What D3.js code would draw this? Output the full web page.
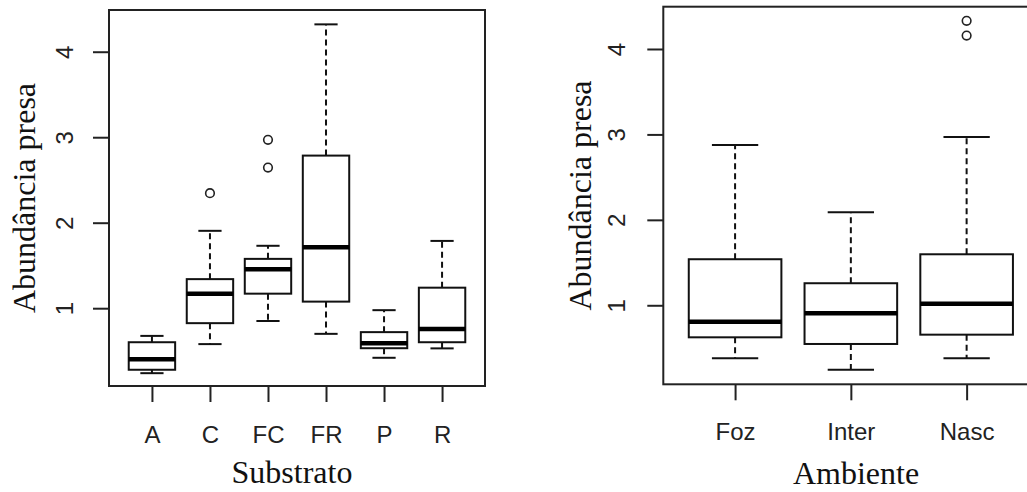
<!DOCTYPE html>
<html>
<head>
<meta charset="utf-8">
<script src="https://cdn.jsdelivr.net/npm/d3@7"></script>
<style>
  html, body { margin: 0; padding: 0; background: #fff; }
  svg { display: block; }
</style>
</head>
<body>
<svg id="chart" width="1027" height="492"></svg>
<script>
// ---------- DATA ----------
const yTicks = [1, 2, 3, 4];

const subCats  = ["A", "C", "FC", "FR", "P", "R"];
const subLow   = [0.24, 0.58, 0.85, 0.70, 0.42, 0.53];
const subQ1    = [0.28, 0.825, 1.17, 1.077, 0.532, 0.602];
const subMed   = [0.404, 1.17, 1.456, 1.713, 0.59, 0.758];
const subQ3    = [0.602, 1.34, 1.577, 2.785, 0.72, 1.24];
const subHigh  = [0.676, 1.905, 1.73, 4.32, 0.977, 1.787];
const subOut   = [[], [2.345], [2.97, 2.645], [], [], []];

const ambCats  = ["Foz", "Inter", "Nasc"];
const ambLow   = [0.379, 0.246, 0.379];
const ambQ1    = [0.625, 0.547, 0.656];
const ambMed   = [0.808, 0.906, 1.019];
const ambQ3    = [1.539, 1.258, 1.597];
const ambHigh  = [2.877, 2.089, 2.97];
const ambOut   = [[], [], [4.33, 4.157]];

const yLabel = "Abundância presa";

// ---------- DRAW ----------
const svg = d3.select("#chart");

function panel(cfg) {
  const { cats, low, q1, med, q3, high, out, left, right, top, bottom,
          xDomain, yDomain, xTitle, xTitleX, xTitleY, xLabY, yLabX, yTitleX } = cfg;
  const g = svg.append("g");
  const x = d3.scaleLinear().domain(xDomain).range([left, right]);
  const y = d3.scaleLinear().domain(yDomain).range([bottom, top]);

  const boxes = cats.map((c, i) => ({ c, i: i + 1, low: low[i], q1: q1[i], med: med[i], q3: q3[i], high: high[i], out: out[i] }));
  const bw = (x(1.4) - x(0.6));   // box width 0.8 units
  const cw = bw / 2;

  const bg = g.selectAll("g.box").data(boxes).enter().append("g").attr("class", "box");
  // whiskers (dashed)
  bg.append("line")
    .attr("x1", d => x(d.i)).attr("x2", d => x(d.i))
    .attr("y1", d => y(d.q3)).attr("y2", d => y(d.high))
    .attr("stroke", "#111").attr("stroke-width", 2).attr("stroke-dasharray", "6,4");
  bg.append("line")
    .attr("x1", d => x(d.i)).attr("x2", d => x(d.i))
    .attr("y1", d => y(d.q1)).attr("y2", d => y(d.low))
    .attr("stroke", "#111").attr("stroke-width", 2).attr("stroke-dasharray", "6,4");
  // caps
  bg.append("line")
    .attr("x1", d => x(d.i) - cw / 2).attr("x2", d => x(d.i) + cw / 2)
    .attr("y1", d => y(d.high)).attr("y2", d => y(d.high))
    .attr("stroke", "#111").attr("stroke-width", 2);
  bg.append("line")
    .attr("x1", d => x(d.i) - cw / 2).attr("x2", d => x(d.i) + cw / 2)
    .attr("y1", d => y(d.low)).attr("y2", d => y(d.low))
    .attr("stroke", "#111").attr("stroke-width", 2);
  // box
  bg.append("rect")
    .attr("x", d => x(d.i) - bw / 2).attr("width", bw)
    .attr("y", d => y(d.q3)).attr("height", d => y(d.q1) - y(d.q3))
    .attr("fill", "#fff").attr("stroke", "#111").attr("stroke-width", 2);
  // median
  bg.append("line")
    .attr("x1", d => x(d.i) - bw / 2).attr("x2", d => x(d.i) + bw / 2)
    .attr("y1", d => y(d.med)).attr("y2", d => y(d.med))
    .attr("stroke", "#000").attr("stroke-width", 4.5);
  // outliers
  bg.selectAll("circle").data(d => d.out.map(v => ({ i: d.i, v }))).enter().append("circle")
    .attr("cx", d => x(d.i)).attr("cy", d => y(d.v)).attr("r", 4.3)
    .attr("fill", "none").attr("stroke", "#222").attr("stroke-width", 1.6);

  // frame
  g.append("rect")
    .attr("x", left).attr("y", top).attr("width", right - left).attr("height", bottom - top)
    .attr("fill", "none").attr("stroke", "#222").attr("stroke-width", 2);

  // y axis
  const ya = g.append("g").attr("transform", `translate(${left},0)`)
    .call(d3.axisLeft(y).tickValues(yTicks).tickSize(16).tickFormat(d3.format("d")));
  ya.select(".domain").remove();
  ya.selectAll(".tick line").attr("stroke", "#222").attr("stroke-width", 2);
  ya.selectAll(".tick text")
    .attr("x", null).attr("dy", null)
    .attr("text-anchor", "middle")
    .attr("transform", `translate(${yLabX - left},0) rotate(-90)`)
    .attr("font-family", "'Liberation Sans', Arial, sans-serif").attr("font-size", 24)
    .attr("fill", "#222");

  // x axis
  const xa = g.append("g").attr("transform", `translate(0,${bottom})`)
    .call(d3.axisBottom(x).tickValues(cats.map((c, i) => i + 1)).tickSize(16)
      .tickFormat((d) => cats[d - 1]));
  xa.select(".domain").remove();
  xa.selectAll(".tick line").attr("stroke", "#222").attr("stroke-width", 2);
  xa.selectAll(".tick text")
    .attr("y", xLabY - bottom).attr("dy", null)
    .attr("font-family", "'Liberation Sans', Arial, sans-serif").attr("font-size", 24)
    .attr("fill", "#222");

  // titles
  g.append("text")
    .attr("x", xTitleX).attr("y", xTitleY).attr("text-anchor", "middle")
    .attr("font-family", "'Liberation Serif', 'Times New Roman', serif").attr("font-size", 32)
    .attr("fill", "#111").text(xTitle);
  g.append("text")
    .attr("transform", `translate(${yTitleX},${(top + bottom) / 2}) rotate(-90)`)
    .attr("text-anchor", "middle")
    .attr("font-family", "'Liberation Serif', 'Times New Roman', serif").attr("font-size", 32)
    .attr("fill", "#111").text(yLabel);
}

panel({
  cats: subCats, low: subLow, q1: subQ1, med: subMed, q3: subQ3, high: subHigh, out: subOut,
  left: 109, right: 485, top: 10, bottom: 386,
  xDomain: [0.26, 6.74], yDomain: [0.09, 4.488],
  xTitle: "Substrato", xTitleX: 292, xTitleY: 483, xLabY: 443, yLabX: 73, yTitleX: 35
});

panel({
  cats: ambCats, low: ambLow, q1: ambQ1, med: ambMed, q3: ambQ3, high: ambHigh, out: ambOut,
  left: 663.3, right: 1038.4, top: 6.7, bottom: 384.3,
  xDomain: [0.38, 3.62], yDomain: [0.075, 4.495],
  xTitle: "Ambiente", xTitleX: 856, xTitleY: 484, xLabY: 440, yLabX: 625, yTitleX: 591
});
</script>
</body>
</html>
